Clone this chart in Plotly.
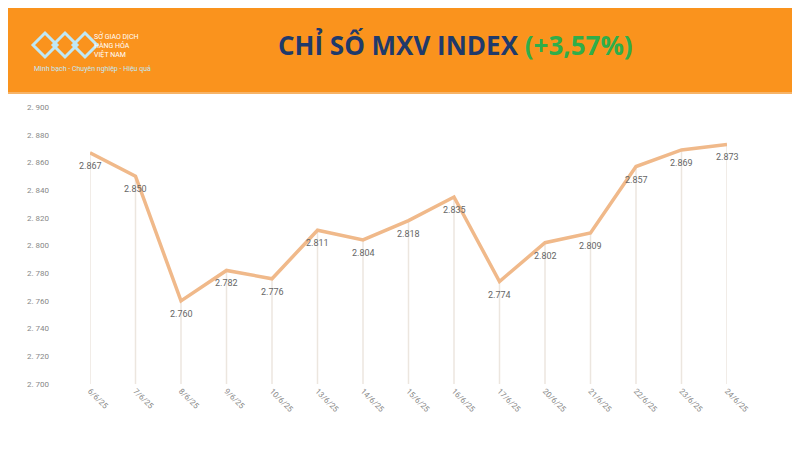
import plotly.graph_objects as go

dates = ["6/6/25","7/6/25","8/6/25","9/6/25","10/6/25","13/6/25","14/6/25","15/6/25",
         "16/6/25","17/6/25","20/6/25","21/6/25","22/6/25","23/6/25","24/6/25"]
values = [2867,2850,2760,2782,2776,2811,2804,2818,2835,2774,2802,2809,2857,2869,2873]
yticks = [2700,2720,2740,2760,2780,2800,2820,2840,2860,2880,2900]

def vn(v):
    return f"{v:,}".replace(",", ".")

OFF = 8  # page body margin
H, W = 449, 800
T, B, L, R = 107 - OFF, H - 384 + OFF, 90 - OFF, W - 727 + OFF
ph, pw = H - T - B, W - L - R

fig = go.Figure()
for d, v in zip(dates, values):
    fig.add_trace(go.Scatter(x=[d, d], y=[2700, v], mode="lines",
                             line=dict(color="#ece6df", width=1.5),
                             hoverinfo="skip", showlegend=False))
fig.add_trace(go.Scatter(x=dates, y=values, mode="lines",
                         line=dict(color="#f0b98a", width=3.5),
                         showlegend=False, cliponaxis=False))
for d, v in zip(dates, values):
    fig.add_annotation(x=d, y=v, text=vn(v), showarrow=False, yshift=-13,
                       font=dict(size=9, color="#666"))

fig.update_xaxes(type="category", range=[0, len(dates) - 1], showgrid=False,
                 tickangle=45, tickfont=dict(size=8, color="#888"), zeroline=False,
                 showline=False, ticks="")
fig.update_yaxes(range=[2700, 2900], tickvals=yticks,
                 ticktext=[vn(v).replace(".", ". ") for v in yticks],
                 showgrid=False, zeroline=False, tickfont=dict(size=8, color="#888"),
                 ticklabelstandoff=40)

py = lambda pix: 1 + (T - (pix - OFF)) / ph
px = lambda pix: ((pix - OFF) - L) / pw
fig.add_shape(type="rect", xref="paper", yref="paper", x0=px(-20), x1=px(W + 20), y0=py(92), y1=py(-20),
              fillcolor="#fa931d", line_width=0, layer="below")
fig.add_shape(type="rect", xref="paper", yref="paper", x0=px(-20), x1=px(W + 20), y0=py(94), y1=py(92),
              fillcolor="#f7b468", line_width=0, layer="below")
for cx in [45, 65, 85]:
    fig.add_shape(type="path", xref="paper", yref="paper",
                  path=f"M {px(cx-12)} {py(45)} L {px(cx)} {py(33)} L {px(cx+12)} {py(45)} L {px(cx)} {py(57)} Z",
                  line=dict(color="#bfe8f5", width=3), fillcolor="rgba(0,0,0,0)")
fig.add_annotation(xref="paper", yref="paper", x=px(92), y=py(45), xanchor="left", yanchor="middle",
                   text="SỞ GIAO DỊCH<br>HÀNG HÓA<br>VIỆT NAM", showarrow=False, align="left",
                   font=dict(size=7, color="white", family="Roboto"))
fig.add_annotation(xref="paper", yref="paper", x=px(32), y=py(69), xanchor="left", yanchor="middle",
                   text="Minh bạch - Chuyên nghiệp - Hiệu quả", showarrow=False,
                   font=dict(size=7, color="#bfe8f5", family="Roboto"))
fig.add_annotation(xref="paper", yref="paper", x=px(455), y=py(45), xanchor="center", yanchor="middle",
                   text="<b>CHỈ SỐ MXV INDEX </b><b><span style='color:#2fae4a'>(+3,57%)</span></b>",
                   showarrow=False, font=dict(size=26, color="#1f3a6b", family="Open Sans"))

fig.update_layout(width=W, height=H, margin=dict(t=T, b=B, l=L, r=R),
                  paper_bgcolor="white", plot_bgcolor="white",
                  font=dict(family="Roboto"))
fig.write_html("out.html")
